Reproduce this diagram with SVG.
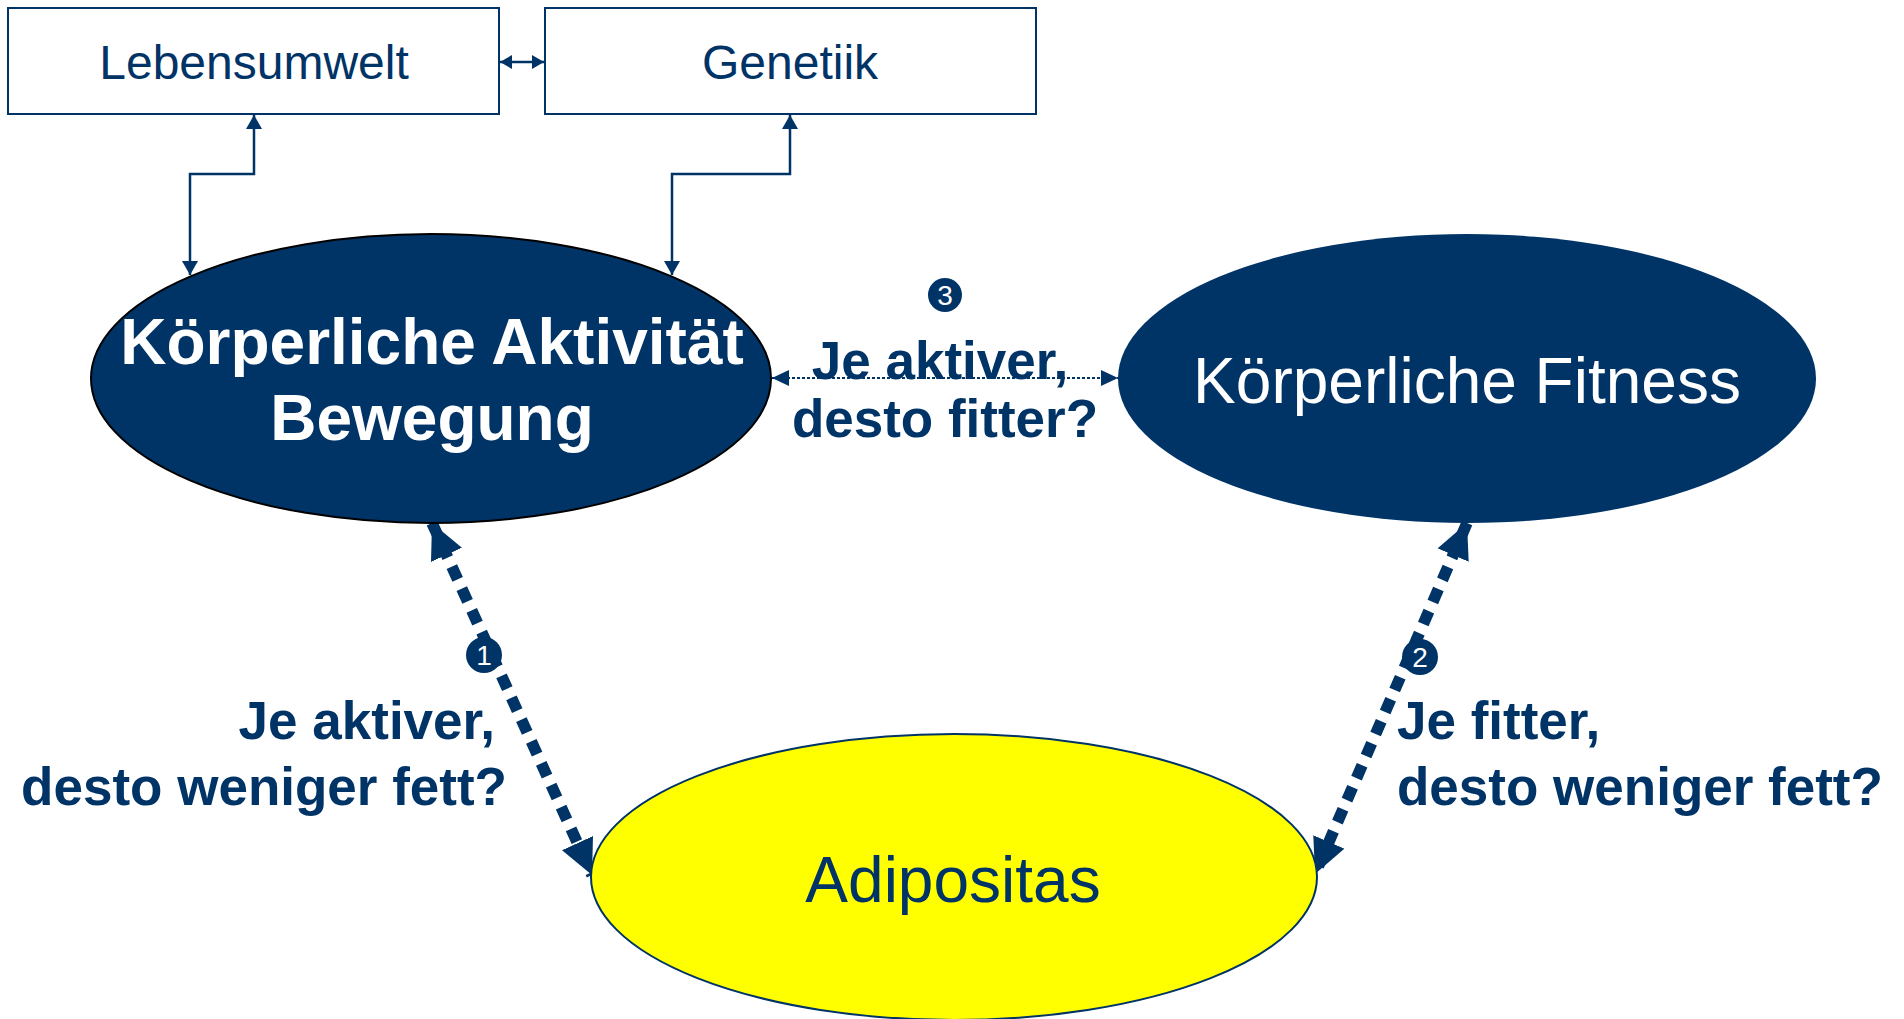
<svg xmlns="http://www.w3.org/2000/svg" width="1904" height="1019" viewBox="0 0 1904 1019">
<style>
  .box { fill: #ffffff; stroke: #003366; stroke-width: 2; }
  .t { font-family: "Liberation Sans", Arial, sans-serif; }
  .boxlabel { font-size: 48px; fill: #003366; text-anchor: middle; }
  .big { font-size: 64px; text-anchor: middle; }
  .lbl { font-size: 53px; font-weight: bold; fill: #003366; }
  .thin { fill: none; stroke: #003366; stroke-width: 2.5; }
  .dot3 { fill: none; stroke: #003366; stroke-width: 2; stroke-dasharray: 3 2; }
  .thick { fill: none; stroke: #003366; stroke-width: 11.5; stroke-dasharray: 14 10; }
  .num { fill: #003366; }
  .numtxt { font-size: 28px; fill: #ffffff; text-anchor: middle; }
</style>
<defs>
  <marker id="aSmall" markerUnits="userSpaceOnUse" markerWidth="15" markerHeight="16" refX="14" refY="8" orient="auto-start-reverse" viewBox="0 0 15 16">
    <path d="M0,0 L14,8 L0,16 z" fill="#003366"/>
  </marker>
  <marker id="aTiny" markerUnits="userSpaceOnUse" markerWidth="13" markerHeight="15" refX="12" refY="7" orient="auto-start-reverse" viewBox="0 0 13 15">
    <path d="M0,0 L12,7 L0,14 z" fill="#003366"/>
  </marker>
  <marker id="aMid" markerUnits="userSpaceOnUse" markerWidth="18" markerHeight="16" refX="17" refY="8" orient="auto-start-reverse" viewBox="0 0 18 16">
    <path d="M0,0 L17,8 L0,16 z" fill="#003366"/>
  </marker>
  <marker id="aBig" markerUnits="userSpaceOnUse" markerWidth="36" markerHeight="35" refX="35" refY="17" orient="auto-start-reverse" viewBox="0 0 36 35">
    <path d="M0,0 L35,17 L0,34 z" fill="#003366"/>
  </marker>
</defs>

<g id="connectors">
  <line x1="500" y1="62" x2="544" y2="62" class="thin" marker-start="url(#aTiny)" marker-end="url(#aTiny)"/>
  <path d="M190,275 V174 H254 V115" class="thin" marker-start="url(#aSmall)" marker-end="url(#aSmall)"/>
  <path d="M672,275 V174 H790 V115" class="thin" marker-start="url(#aSmall)" marker-end="url(#aSmall)"/>
  <line x1="772" y1="378" x2="1118" y2="378" class="dot3" marker-start="url(#aMid)" marker-end="url(#aMid)"/>
  <line x1="432" y1="523" x2="592" y2="875" class="thick" marker-start="url(#aBig)" marker-end="url(#aBig)"/>
  <line x1="1467" y1="523" x2="1315" y2="874" class="thick" marker-start="url(#aBig)" marker-end="url(#aBig)"/>
</g>

<g id="node-lebensumwelt">
  <rect x="8" y="8" width="491" height="106" class="box"/>
  <text x="254" y="79" class="t boxlabel">Lebensumwelt</text>
</g>
<g id="node-genetiik">
  <rect x="545" y="8" width="491" height="106" class="box"/>
  <text x="790" y="79" class="t boxlabel">Genetiik</text>
</g>

<g id="node-aktivitaet">
  <ellipse cx="431" cy="378.5" rx="340" ry="144.5" fill="#003366" stroke="#000000" stroke-width="2"/>
  <text x="432" y="364" class="t big" font-weight="bold" fill="#ffffff">Körperliche Aktivität</text>
  <text x="432" y="440" class="t big" font-weight="bold" fill="#ffffff">Bewegung</text>
</g>

<g id="node-fitness">
  <ellipse cx="1467" cy="378.5" rx="349" ry="144.5" fill="#003366"/>
  <text x="1467" y="403" class="t big" fill="#ffffff">Körperliche Fitness</text>
</g>

<g id="node-adipositas">
  <ellipse cx="954" cy="877" rx="363" ry="143" fill="#ffff00" stroke="#003366" stroke-width="2"/>
  <text x="953" y="902" class="t big" fill="#003366">Adipositas</text>
</g>

<g id="label-3">
  <circle cx="945" cy="295" r="17" class="num"/>
  <text x="945" y="305" class="t numtxt">3</text>
  <text x="940" y="379" class="t lbl" text-anchor="middle">Je aktiver,</text>
  <text x="945" y="437" class="t lbl" text-anchor="middle">desto fitter?</text>
</g>

<g id="label-1">
  <circle cx="484" cy="655" r="18" class="num"/>
  <text x="484" y="665" class="t numtxt">1</text>
  <text x="495" y="739" class="t lbl" text-anchor="end">Je aktiver,</text>
  <text x="507" y="805" class="t lbl" text-anchor="end">desto weniger fett?</text>
</g>

<g id="label-2">
  <circle cx="1420" cy="657" r="18" class="num"/>
  <text x="1420" y="667" class="t numtxt">2</text>
  <text x="1397" y="739" class="t lbl">Je fitter,</text>
  <text x="1397" y="805" class="t lbl">desto weniger fett?</text>
</g>
</svg>
